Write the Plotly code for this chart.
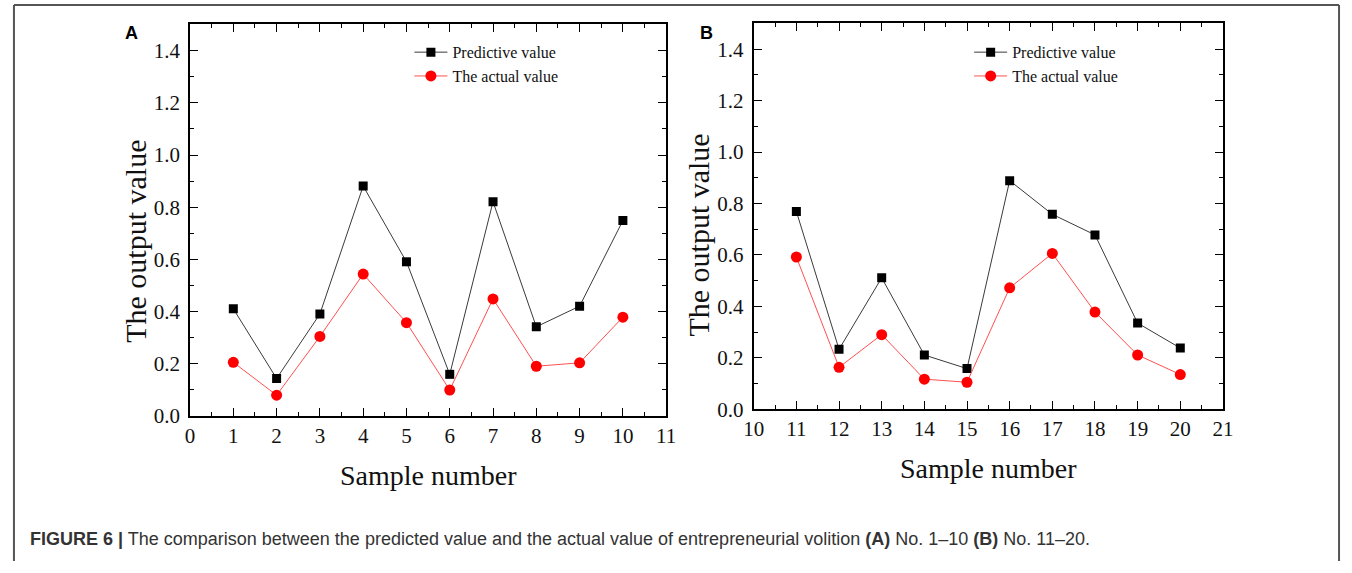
import plotly.graph_objects as go

samples_a = [1, 2, 3, 4, 5, 6, 7, 8, 9, 10]
pred_a = [0.411, 0.144, 0.391, 0.881, 0.591, 0.160, 0.821, 0.342, 0.421, 0.749]
actual_a = [0.206, 0.080, 0.305, 0.544, 0.358, 0.100, 0.449, 0.191, 0.204, 0.379]

samples_b = [11, 12, 13, 14, 15, 16, 17, 18, 19, 20]
pred_b = [0.769, 0.233, 0.511, 0.211, 0.158, 0.889, 0.758, 0.678, 0.335, 0.238]
actual_b = [0.592, 0.163, 0.290, 0.117, 0.105, 0.472, 0.606, 0.378, 0.211, 0.135]

series_names = ["Predictive value", "The actual value"]
caption = ("<b>FIGURE 6 |</b> The comparison between the predicted value and the actual value of "
           "entrepreneurial volition <b>(A)</b> No. 1–10 <b>(B)</b> No. 11–20.")

W, H = 1352, 573
SERIF = "Liberation Serif"
SANS = "Liberation Sans"

fig = go.Figure()

def add_pair(x, p, a, xa, ya, leg):
    fig.add_trace(go.Scatter(
        x=x, y=p, name=series_names[0], mode="lines+markers",
        line=dict(color="#3a3a3a", width=1),
        marker=dict(symbol="square", size=9, color="black"),
        xaxis=xa, yaxis=ya, legend=leg))
    fig.add_trace(go.Scatter(
        x=x, y=a, name=series_names[1], mode="lines+markers",
        line=dict(color="#ff5050", width=1),
        marker=dict(symbol="circle", size=11, color="#ff0000"),
        xaxis=xa, yaxis=ya, legend=leg))

add_pair(samples_a, pred_a, actual_a, "x", "y", "legend")
add_pair(samples_b, pred_b, actual_b, "x2", "y2", "legend2")

axis_common = dict(
    showline=True, linecolor="black", linewidth=1.8, mirror="ticks",
    ticks="inside", ticklen=8, tickwidth=1.4, tickcolor="black",
    showgrid=False, zeroline=False,
    tickfont=dict(family=SERIF, size=21, color="#111"),
    minor=dict(ticks="inside", ticklen=4, tickwidth=1.2, tickcolor="black", showgrid=False),
)

def px_x(v):
    return v / W

def px_y(v):
    return 1 - v / H

fig.update_layout(
    width=W, height=H,
    margin=dict(l=0, r=0, t=0, b=0, pad=0),
    paper_bgcolor="white", plot_bgcolor="white",
    showlegend=True,
    xaxis=dict(domain=[px_x(182), px_x(666)], range=[0, 11], dtick=1, tick0=0,
               minor_dtick=0.5, anchor="y", ticklabelstandoff=0, **axis_common),
    yaxis=dict(domain=[px_y(425), px_y(25)], range=[0, 1.5], dtick=0.2, tick0=0,
               tickformat=".1f", minor_dtick=0.1, anchor="x", ticklabelstandoff=4,
               **axis_common),
    xaxis2=dict(domain=[px_x(755), px_x(1232)], range=[10, 21], dtick=1, tick0=10,
                minor_dtick=0.5, anchor="y2", ticklabelstandoff=0, **axis_common),
    yaxis2=dict(domain=[px_y(418), px_y(24)], range=[0, 1.5], dtick=0.2, tick0=0,
                tickformat=".1f", minor_dtick=0.1, anchor="x2", ticklabelstandoff=4,
                **axis_common),
    legend=dict(x=px_x(405), y=px_y(36), xanchor="left", yanchor="top",
                bgcolor="rgba(0,0,0,0)", font=dict(family=SERIF, size=16, color="#111"),
                itemwidth=33, tracegroupgap=0),
    legend2=dict(x=px_x(974), y=px_y(36), xanchor="left", yanchor="top",
                 bgcolor="rgba(0,0,0,0)", font=dict(family=SERIF, size=16, color="#111"),
                 itemwidth=33, tracegroupgap=0),
)

annotations = [
    dict(text="<b>A</b>", x=px_x(122), y=px_y(34), font=dict(family=SANS, size=18, color="black")),
    dict(text="<b>B</b>", x=px_x(707), y=px_y(34), font=dict(family=SANS, size=18, color="black")),
    dict(text="The output value", x=px_x(127), y=px_y(246), textangle=-90,
         font=dict(family=SERIF, size=30, color="#111")),
    dict(text="The output value", x=px_x(699), y=px_y(240), textangle=-90,
         font=dict(family=SERIF, size=30, color="#111")),
    dict(text="Sample number", x=px_x(424), y=px_y(486),
         font=dict(family=SERIF, size=28, color="#111")),
    dict(text="Sample number", x=px_x(994), y=px_y(479),
         font=dict(family=SERIF, size=28, color="#111")),
    dict(text=caption, x=px_x(17), y=px_y(551), xanchor="left",
         font=dict(family=SANS, size=18, color="#333")),
]
for a in annotations:
    a.setdefault("xanchor", "center")
    a.update(xref="paper", yref="paper", yanchor="middle", showarrow=False)
fig.update_layout(annotations=annotations)

frame = dict(color="#555", width=2)
fig.update_layout(shapes=[
    dict(type="line", xref="paper", yref="paper", x0=px_x(3), x1=px_x(1350), y0=px_y(5), y1=px_y(5), line=frame),
    dict(type="line", xref="paper", yref="paper", x0=px_x(3), x1=px_x(3), y0=px_y(5), y1=0, line=frame),
    dict(type="line", xref="paper", yref="paper", x0=px_x(1350), x1=px_x(1350), y0=px_y(5), y1=0, line=frame),
])

post = "document.body.style.margin='0';document.documentElement.style.overflow='hidden';"
fig.write_html("out.html", config={"displayModeBar": False}, post_script=post)
